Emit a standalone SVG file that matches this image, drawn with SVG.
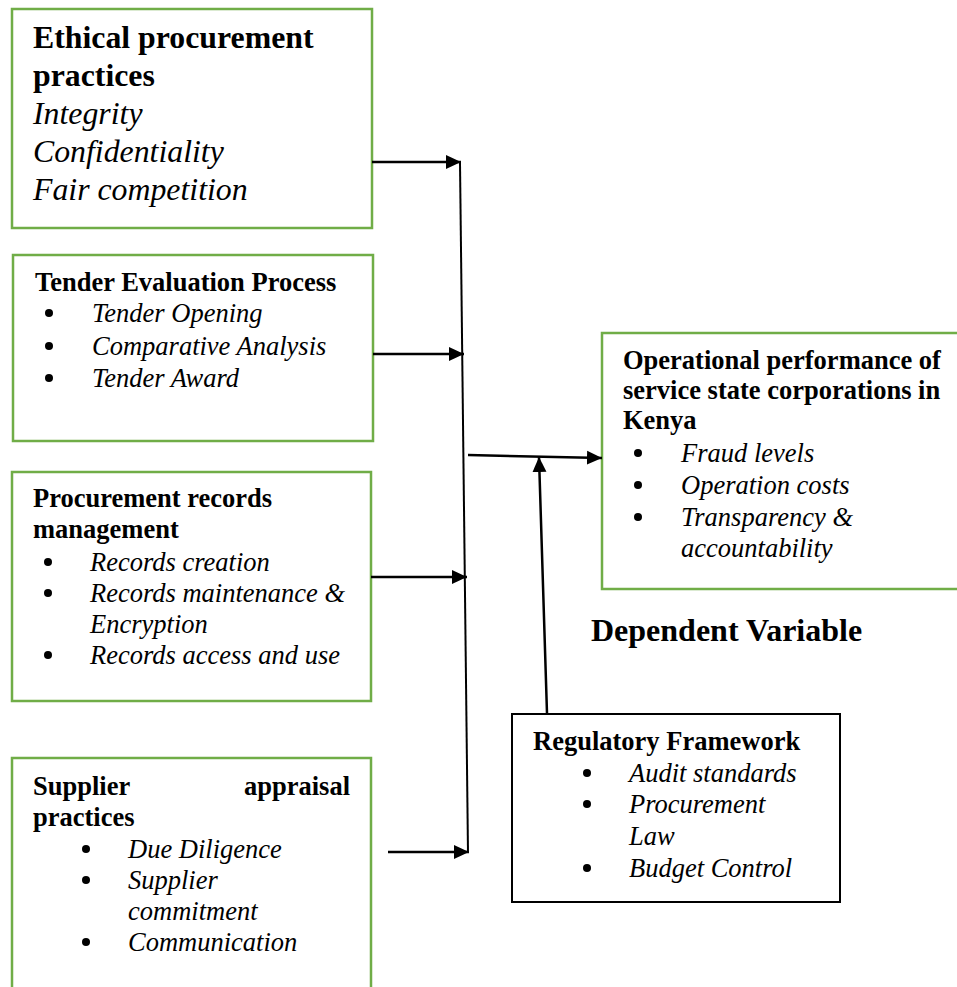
<svg xmlns="http://www.w3.org/2000/svg" width="957" height="987" viewBox="0 0 957 987">
<style>
.gbox{fill:#fff;stroke:#70AD47;stroke-width:2.5}
.kbox{fill:#fff;stroke:#000;stroke-width:2}
text{font-family:"Liberation Serif","Times New Roman",serif;fill:#000}
.b{font-weight:bold;font-size:26.5px}
.i{font-style:italic;font-size:26.5px}
.b1{font-weight:bold;font-size:31.8px}
.i1{font-style:italic;font-size:31.8px}
.dv{font-weight:bold;font-size:32px}
.dot{fill:#000}
.conn{stroke:#000;stroke-width:2.5;fill:none}
.thin{stroke:#000;stroke-width:2;fill:none}
</style>
<defs>
<marker id="ah" markerUnits="userSpaceOnUse" markerWidth="16" markerHeight="16" refX="15" refY="7" orient="auto" viewBox="0 0 16 14">
<path d="M0,0 L15,7 L0,14 z" fill="#000"/>
</marker>
</defs>
<rect width="957" height="987" fill="#fff"/>

<g id="ethical">
<rect class="gbox" x="12" y="9" width="360" height="219"/>
<text class="b1" x="33" y="48">Ethical procurement</text>
<text class="b1" x="33" y="86">practices</text>
<text class="i1" x="33" y="124">Integrity</text>
<text class="i1" x="33" y="162">Confidentiality</text>
<text class="i1" x="33" y="200">Fair competition</text>
</g>

<g id="tender">
<rect class="gbox" x="13" y="255" width="360" height="186"/>
<text class="b" x="35" y="291">Tender Evaluation Process</text>
<circle class="dot" cx="49" cy="313" r="4"/><text class="i" x="92" y="322">Tender Opening</text>
<circle class="dot" cx="49" cy="346" r="4"/><text class="i" x="92" y="355">Comparative Analysis</text>
<circle class="dot" cx="49" cy="378" r="4"/><text class="i" x="92" y="387">Tender Award</text>
</g>

<g id="records">
<rect class="gbox" x="12" y="472" width="359" height="229"/>
<text class="b" x="33" y="507">Procurement records</text>
<text class="b" x="33" y="538">management</text>
<circle class="dot" cx="48" cy="562" r="4"/><text class="i" x="90" y="571">Records creation</text>
<circle class="dot" cx="48" cy="593" r="4"/><text class="i" x="90" y="602">Records maintenance &amp;</text>
<text class="i" x="90" y="633">Encryption</text>
<circle class="dot" cx="48" cy="655" r="4"/><text class="i" x="90" y="664">Records access and use</text>
</g>

<g id="supplier">
<path class="gbox" d="M12,1000 L12,758 L371,758 L371,1000"/>
<text class="b" x="33" y="795">Supplier</text>
<text class="b" x="350" y="795" text-anchor="end">appraisal</text>
<text class="b" x="33" y="826">practices</text>
<circle class="dot" cx="86" cy="849" r="4"/><text class="i" x="128" y="858">Due Diligence</text>
<circle class="dot" cx="86" cy="880" r="4"/><text class="i" x="128" y="889">Supplier</text>
<text class="i" x="128" y="920">commitment</text>
<circle class="dot" cx="86" cy="942" r="4"/><text class="i" x="128" y="951">Communication</text>
</g>

<g id="operational">
<rect class="gbox" x="602" y="333" width="380" height="256"/>
<text class="b" x="623" y="369">Operational performance of</text>
<text class="b" x="623" y="399">service state corporations in</text>
<text class="b" x="623" y="429">Kenya</text>
<circle class="dot" cx="638" cy="453" r="4"/><text class="i" x="681" y="462">Fraud levels</text>
<circle class="dot" cx="638" cy="485" r="4"/><text class="i" x="681" y="494">Operation costs</text>
<circle class="dot" cx="638" cy="517" r="4"/><text class="i" x="681" y="526">Transparency &amp;</text>
<text class="i" x="681" y="557">accountability</text>
</g>

<g id="dependent-label">
<text class="dv" x="591" y="641">Dependent Variable</text>
</g>

<g id="regulatory">
<rect class="kbox" x="512" y="714" width="328" height="188"/>
<text class="b" x="533" y="750">Regulatory Framework</text>
<circle class="dot" cx="587" cy="773" r="4"/><text class="i" x="629" y="782">Audit standards</text>
<circle class="dot" cx="587" cy="804" r="4"/><text class="i" x="629" y="813">Procurement</text>
<text class="i" x="629" y="845">Law</text>
<circle class="dot" cx="587" cy="868" r="4"/><text class="i" x="629" y="877">Budget Control</text>
</g>

<g id="connectors">
<line class="thin" x1="460" y1="163" x2="468" y2="853"/>
<line class="conn" x1="372" y1="162" x2="461" y2="162" marker-end="url(#ah)"/>
<line class="conn" x1="373" y1="354" x2="464" y2="354" marker-end="url(#ah)"/>
<line class="conn" x1="371" y1="577" x2="467" y2="577" marker-end="url(#ah)"/>
<line class="conn" x1="388" y1="852" x2="469" y2="852" marker-end="url(#ah)"/>
<line class="conn" x1="468" y1="455" x2="602" y2="458" marker-end="url(#ah)"/>
<line class="conn" x1="547" y1="713" x2="539" y2="457" marker-end="url(#ah)"/>
</g>
</svg>
